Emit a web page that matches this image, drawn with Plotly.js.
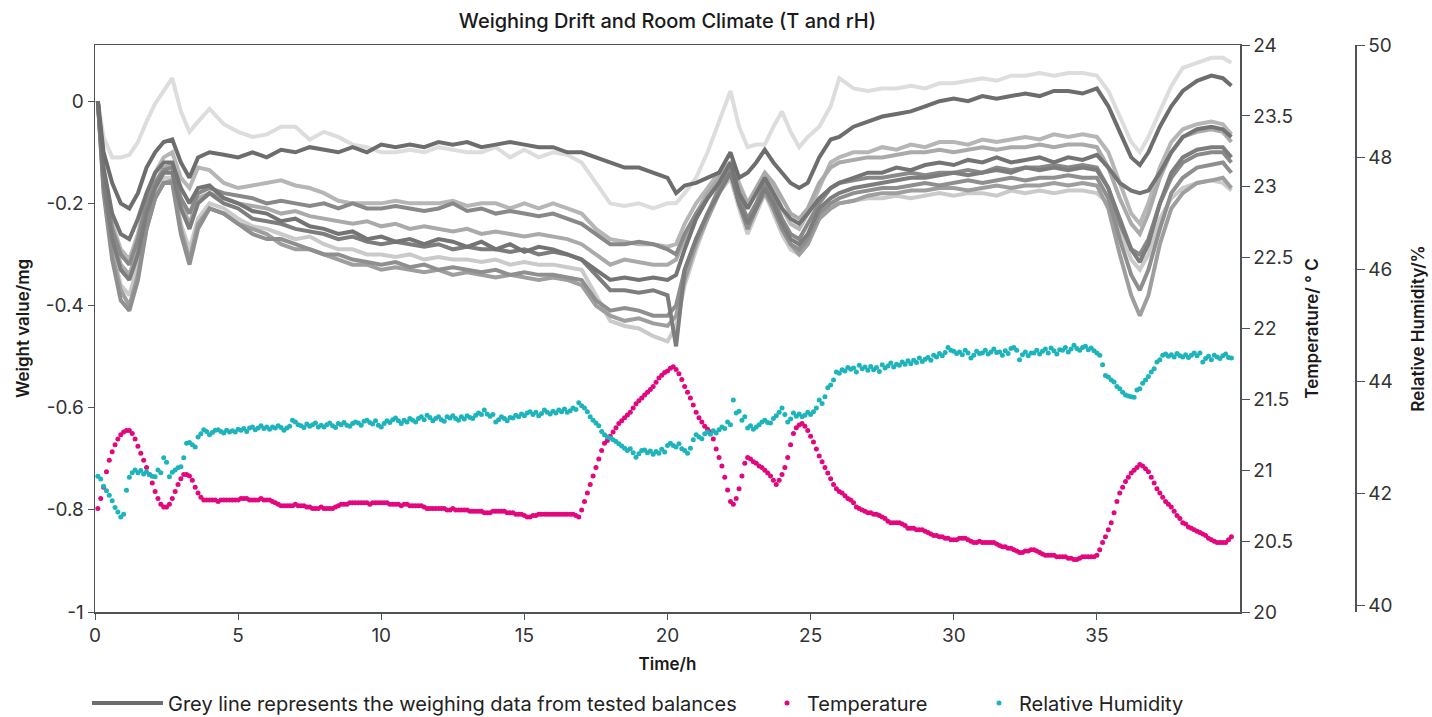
<!DOCTYPE html>
<html><head><meta charset="utf-8">
<script src="https://cdn.plot.ly/plotly-3.0.1.min.js"></script>
<style>html,body{margin:0;padding:0;background:#fff}#chart{width:1432px;height:717px}</style>
</head><body><div id="chart"></div>
<script>
// ---- Weighing drift (mg) of the tested balances, sampled on a common time grid (h) ----
const greyTimes = [0.1,0.3,0.6,0.9,1.2,1.5,1.8,2.1,2.4,2.7,3.0,3.3,3.6,4.0,
 4.5,5,5.5,6,6.5,7,7.5,8,8.5,9,9.5,10,10.5,11,11.5,12,
 12.5,13,13.5,14,14.5,15,15.5,16,16.5,17,17.5,18,18.5,19,19.5,20,
 20.3,20.6,21,21.4,21.8,22.2,22.5,22.8,23.1,23.4,23.7,24,24.3,24.6,24.9,25.3,25.7,
 26,26.5,27,27.5,28,28.5,29,29.5,30,30.5,31,31.5,32,32.5,33,33.5,34,34.5,35,
 35.4,35.8,36.2,36.5,36.8,37.2,37.6,38,38.5,39,39.4,39.7];

const balanceA = [0.0,-0.07,-0.11,-0.11,-0.105,-0.08,-0.04,-0.005,0.02,0.045,-0.02,-0.06,-0.04,-0.015,
 -0.045,-0.06,-0.07,-0.065,-0.05,-0.05,-0.075,-0.06,-0.07,-0.085,-0.09,-0.1,-0.1,-0.095,-0.1,-0.09,
 -0.095,-0.1,-0.1,-0.09,-0.11,-0.095,-0.11,-0.1,-0.105,-0.12,-0.16,-0.2,-0.205,-0.2,-0.21,-0.2,
 -0.2,-0.18,-0.15,-0.1,-0.04,0.02,-0.05,-0.09,-0.085,-0.085,-0.05,-0.02,-0.06,-0.09,-0.07,-0.05,-0.01,
 0.045,0.025,0.02,0.025,0.025,0.03,0.025,0.035,0.035,0.04,0.045,0.04,0.05,0.05,0.055,0.05,0.055,0.055,0.05,
 0.02,-0.03,-0.08,-0.1,-0.07,-0.02,0.03,0.065,0.075,0.085,0.085,0.075];
const balanceB = [0.0,-0.1,-0.16,-0.2,-0.21,-0.18,-0.13,-0.1,-0.08,-0.075,-0.12,-0.15,-0.11,-0.1,
 -0.105,-0.11,-0.1,-0.11,-0.095,-0.1,-0.09,-0.095,-0.1,-0.09,-0.1,-0.085,-0.09,-0.085,-0.09,-0.08,
 -0.085,-0.08,-0.09,-0.085,-0.08,-0.085,-0.09,-0.09,-0.1,-0.1,-0.11,-0.12,-0.13,-0.13,-0.14,-0.15,
 -0.18,-0.165,-0.16,-0.15,-0.14,-0.1,-0.15,-0.14,-0.12,-0.095,-0.12,-0.14,-0.16,-0.17,-0.16,-0.11,-0.075,
 -0.07,-0.05,-0.04,-0.03,-0.025,-0.02,-0.01,0.0,0.005,0.0,0.01,0.005,0.01,0.015,0.01,0.02,0.02,0.015,0.025,
 -0.01,-0.06,-0.11,-0.125,-0.1,-0.05,-0.01,0.02,0.04,0.05,0.045,0.03];
const balanceC = [0.0,-0.14,-0.24,-0.29,-0.31,-0.26,-0.19,-0.14,-0.11,-0.1,-0.15,-0.17,-0.13,-0.135,
 -0.16,-0.17,-0.165,-0.16,-0.155,-0.165,-0.17,-0.18,-0.195,-0.2,-0.2,-0.2,-0.195,-0.2,-0.2,-0.2,
 -0.195,-0.205,-0.2,-0.2,-0.21,-0.2,-0.21,-0.2,-0.21,-0.22,-0.25,-0.27,-0.275,-0.28,-0.28,-0.285,
 -0.28,-0.24,-0.2,-0.17,-0.14,-0.12,-0.16,-0.2,-0.18,-0.14,-0.17,-0.21,-0.24,-0.25,-0.22,-0.17,-0.12,
 -0.11,-0.1,-0.1,-0.09,-0.095,-0.085,-0.09,-0.08,-0.08,-0.085,-0.075,-0.08,-0.075,-0.07,-0.075,-0.065,-0.07,-0.065,-0.07,
 -0.1,-0.16,-0.22,-0.24,-0.2,-0.13,-0.08,-0.055,-0.045,-0.04,-0.045,-0.065];
const balanceD = [0.0,-0.15,-0.25,-0.3,-0.32,-0.27,-0.2,-0.16,-0.135,-0.13,-0.19,-0.22,-0.18,-0.17,
 -0.18,-0.185,-0.19,-0.2,-0.195,-0.2,-0.205,-0.2,-0.21,-0.2,-0.21,-0.21,-0.205,-0.21,-0.215,-0.21,
 -0.2,-0.215,-0.21,-0.22,-0.215,-0.22,-0.225,-0.22,-0.23,-0.24,-0.26,-0.28,-0.28,-0.275,-0.28,-0.29,
 -0.3,-0.26,-0.22,-0.19,-0.16,-0.13,-0.19,-0.23,-0.2,-0.16,-0.19,-0.23,-0.26,-0.27,-0.24,-0.2,-0.17,
 -0.16,-0.155,-0.15,-0.15,-0.145,-0.14,-0.145,-0.14,-0.14,-0.135,-0.14,-0.13,-0.135,-0.13,-0.13,-0.125,-0.13,-0.125,-0.13,
 -0.17,-0.24,-0.29,-0.3,-0.27,-0.2,-0.15,-0.12,-0.105,-0.1,-0.1,-0.12];
const balanceE = [0.0,-0.13,-0.22,-0.26,-0.27,-0.23,-0.18,-0.14,-0.12,-0.12,-0.17,-0.2,-0.17,-0.165,
 -0.19,-0.2,-0.215,-0.22,-0.235,-0.23,-0.245,-0.25,-0.26,-0.255,-0.27,-0.265,-0.275,-0.27,-0.28,-0.27,
 -0.275,-0.285,-0.275,-0.29,-0.28,-0.295,-0.285,-0.29,-0.3,-0.31,-0.33,-0.35,-0.345,-0.35,-0.345,-0.35,
 -0.34,-0.29,-0.23,-0.19,-0.16,-0.12,-0.18,-0.21,-0.18,-0.15,-0.18,-0.21,-0.23,-0.24,-0.22,-0.19,-0.17,
 -0.16,-0.15,-0.14,-0.14,-0.13,-0.135,-0.125,-0.12,-0.125,-0.115,-0.12,-0.11,-0.12,-0.115,-0.11,-0.12,-0.11,-0.115,-0.105,
 -0.13,-0.16,-0.175,-0.18,-0.175,-0.14,-0.1,-0.07,-0.055,-0.05,-0.055,-0.07];
const balanceF = [0.0,-0.16,-0.27,-0.33,-0.35,-0.3,-0.22,-0.17,-0.14,-0.14,-0.21,-0.25,-0.2,-0.18,
 -0.2,-0.21,-0.23,-0.235,-0.24,-0.25,-0.255,-0.26,-0.27,-0.265,-0.275,-0.28,-0.275,-0.28,-0.285,-0.28,
 -0.29,-0.285,-0.29,-0.29,-0.295,-0.29,-0.3,-0.295,-0.3,-0.31,-0.34,-0.37,-0.37,-0.375,-0.37,-0.38,
 -0.48,-0.33,-0.27,-0.22,-0.18,-0.14,-0.2,-0.24,-0.21,-0.17,-0.2,-0.24,-0.27,-0.28,-0.26,-0.21,-0.19,
 -0.18,-0.17,-0.165,-0.16,-0.155,-0.15,-0.15,-0.145,-0.14,-0.145,-0.14,-0.135,-0.14,-0.13,-0.135,-0.13,-0.135,-0.13,-0.135,
 -0.17,-0.23,-0.29,-0.315,-0.28,-0.2,-0.14,-0.11,-0.095,-0.09,-0.09,-0.11];
const balanceG = [0.0,-0.17,-0.29,-0.36,-0.38,-0.32,-0.23,-0.18,-0.15,-0.15,-0.24,-0.29,-0.23,-0.2,
 -0.21,-0.23,-0.245,-0.25,-0.26,-0.27,-0.265,-0.28,-0.29,-0.29,-0.3,-0.3,-0.305,-0.3,-0.31,-0.305,
 -0.31,-0.31,-0.315,-0.31,-0.32,-0.315,-0.32,-0.32,-0.325,-0.33,-0.38,-0.43,-0.44,-0.445,-0.46,-0.47,
 -0.44,-0.36,-0.29,-0.23,-0.18,-0.15,-0.21,-0.26,-0.22,-0.18,-0.22,-0.26,-0.29,-0.3,-0.28,-0.23,-0.2,
 -0.2,-0.195,-0.19,-0.19,-0.185,-0.19,-0.185,-0.18,-0.185,-0.18,-0.18,-0.185,-0.175,-0.18,-0.175,-0.18,-0.175,-0.175,-0.18,
 -0.2,-0.25,-0.31,-0.33,-0.3,-0.23,-0.19,-0.17,-0.16,-0.155,-0.16,-0.175];
const balanceH = [0.0,-0.18,-0.31,-0.39,-0.41,-0.35,-0.25,-0.19,-0.16,-0.16,-0.26,-0.32,-0.25,-0.21,
 -0.22,-0.24,-0.26,-0.27,-0.27,-0.28,-0.29,-0.3,-0.3,-0.31,-0.315,-0.32,-0.315,-0.325,-0.32,-0.33,
 -0.325,-0.33,-0.335,-0.33,-0.34,-0.335,-0.34,-0.34,-0.345,-0.35,-0.39,-0.41,-0.405,-0.41,-0.42,-0.42,
 -0.4,-0.33,-0.27,-0.22,-0.17,-0.13,-0.2,-0.25,-0.21,-0.17,-0.21,-0.25,-0.28,-0.29,-0.27,-0.22,-0.2,
 -0.19,-0.18,-0.175,-0.17,-0.17,-0.165,-0.16,-0.165,-0.16,-0.155,-0.16,-0.155,-0.15,-0.155,-0.15,-0.15,-0.145,-0.15,-0.15,
 -0.19,-0.27,-0.34,-0.37,-0.33,-0.25,-0.18,-0.15,-0.13,-0.125,-0.12,-0.14];
const balanceI = [0.0,-0.17,-0.3,-0.37,-0.4,-0.34,-0.25,-0.19,-0.16,-0.155,-0.25,-0.31,-0.24,-0.21,
 -0.22,-0.24,-0.25,-0.26,-0.28,-0.29,-0.29,-0.3,-0.31,-0.32,-0.32,-0.33,-0.325,-0.33,-0.335,-0.33,
 -0.34,-0.335,-0.34,-0.345,-0.34,-0.345,-0.35,-0.345,-0.35,-0.36,-0.4,-0.42,-0.43,-0.425,-0.435,-0.44,
 -0.42,-0.35,-0.28,-0.23,-0.18,-0.14,-0.2,-0.25,-0.21,-0.18,-0.21,-0.25,-0.28,-0.3,-0.28,-0.23,-0.21,
 -0.2,-0.195,-0.185,-0.18,-0.18,-0.175,-0.175,-0.17,-0.17,-0.175,-0.17,-0.165,-0.17,-0.165,-0.165,-0.16,-0.165,-0.16,-0.165,
 -0.21,-0.3,-0.38,-0.42,-0.38,-0.28,-0.21,-0.18,-0.16,-0.155,-0.15,-0.17];
const balanceJ = [0.0,-0.15,-0.26,-0.32,-0.34,-0.29,-0.21,-0.16,-0.13,-0.125,-0.2,-0.24,-0.19,-0.18,
 -0.19,-0.2,-0.205,-0.21,-0.22,-0.215,-0.225,-0.23,-0.235,-0.24,-0.235,-0.245,-0.24,-0.25,-0.245,-0.25,
 -0.255,-0.25,-0.26,-0.255,-0.26,-0.265,-0.26,-0.265,-0.27,-0.28,-0.3,-0.32,-0.31,-0.315,-0.32,-0.32,
 -0.31,-0.27,-0.22,-0.18,-0.15,-0.125,-0.17,-0.2,-0.17,-0.14,-0.16,-0.19,-0.22,-0.23,-0.21,-0.16,-0.13,
 -0.12,-0.115,-0.11,-0.11,-0.105,-0.1,-0.1,-0.095,-0.1,-0.095,-0.09,-0.095,-0.09,-0.09,-0.085,-0.09,-0.085,-0.085,-0.09,
 -0.13,-0.19,-0.24,-0.26,-0.22,-0.15,-0.1,-0.07,-0.06,-0.055,-0.06,-0.08];

// ---- Room climate, one reading every 0.1 h starting at 0.1 h ----
const climateStartH = 0.1;
const climateStepH = 0.1;
const temperatureC = [
 20.73,20.80,20.88,20.99,21.07,21.13,21.18,21.22,21.25,21.27,
 21.28,21.28,21.26,21.22,21.17,21.12,21.07,21.02,20.97,20.91,
 20.85,20.80,20.76,20.74,20.74,20.76,20.80,20.85,20.90,20.94,
 20.97,20.97,20.96,20.93,20.88,20.84,20.81,20.79,20.79,20.79,
 20.79,20.79,20.78,20.79,20.79,20.79,20.79,20.79,20.79,20.79,
 20.80,20.80,20.80,20.79,20.79,20.79,20.79,20.80,20.79,20.79,
 20.79,20.78,20.77,20.76,20.75,20.75,20.75,20.75,20.75,20.76,
 20.75,20.75,20.75,20.74,20.74,20.73,20.73,20.73,20.74,20.73,
 20.73,20.73,20.73,20.74,20.75,20.76,20.76,20.76,20.77,20.77,
 20.77,20.77,20.77,20.77,20.77,20.76,20.77,20.77,20.77,20.77,
 20.77,20.77,20.76,20.76,20.76,20.76,20.75,20.76,20.76,20.75,
 20.75,20.75,20.75,20.75,20.74,20.73,20.73,20.73,20.73,20.73,
 20.73,20.73,20.72,20.72,20.73,20.72,20.72,20.72,20.72,20.72,
 20.71,20.71,20.71,20.71,20.71,20.70,20.70,20.70,20.71,20.71,
 20.71,20.71,20.71,20.70,20.70,20.70,20.69,20.69,20.69,20.68,
 20.67,20.67,20.68,20.68,20.69,20.69,20.69,20.69,20.69,20.69,
 20.69,20.69,20.69,20.69,20.69,20.69,20.69,20.68,20.67,20.72,
 20.78,20.84,20.90,20.96,21.02,21.08,21.14,21.19,21.21,21.24,
 21.27,21.30,21.33,21.35,21.37,21.39,21.41,21.44,21.47,21.49,
 21.51,21.53,21.55,21.57,21.59,21.62,21.65,21.67,21.69,21.70,
 21.72,21.73,21.71,21.68,21.64,21.59,21.55,21.51,21.46,21.41,
 21.37,21.34,21.31,21.29,21.27,21.22,21.15,21.09,21.03,20.95,
 20.86,20.78,20.76,20.80,20.87,20.96,21.05,21.09,21.08,21.06,
 21.05,21.03,21.02,21.00,20.98,20.96,20.93,20.90,20.93,20.97,
 21.02,21.09,21.18,21.26,21.30,21.32,21.33,21.31,21.28,21.24,
 21.20,21.15,21.10,21.06,21.02,20.98,20.94,20.90,20.87,20.85,
 20.84,20.82,20.80,20.79,20.77,20.74,20.73,20.72,20.71,20.70,
 20.70,20.69,20.69,20.68,20.67,20.66,20.64,20.63,20.63,20.63,
 20.63,20.62,20.61,20.59,20.59,20.59,20.58,20.58,20.58,20.57,
 20.56,20.55,20.54,20.54,20.53,20.53,20.52,20.52,20.51,20.51,
 20.51,20.52,20.52,20.52,20.51,20.50,20.49,20.49,20.50,20.49,
 20.49,20.49,20.49,20.49,20.48,20.47,20.46,20.46,20.45,20.45,
 20.44,20.43,20.42,20.42,20.43,20.43,20.44,20.44,20.43,20.42,
 20.41,20.40,20.40,20.40,20.40,20.39,20.39,20.39,20.39,20.38,
 20.38,20.37,20.37,20.38,20.39,20.39,20.39,20.39,20.39,20.40,
 20.44,20.49,20.53,20.58,20.63,20.70,20.78,20.84,20.88,20.92,
 20.95,20.98,21.00,21.02,21.04,21.03,21.01,20.99,20.95,20.91,
 20.87,20.84,20.81,20.78,20.76,20.74,20.71,20.68,20.66,20.63,
 20.62,20.60,20.59,20.58,20.57,20.56,20.55,20.54,20.52,20.51,
 20.50,20.49,20.49,20.49,20.49,20.51,20.53];
const humidityPct = [
 42.30,42.25,42.12,42.04,41.96,41.86,41.74,41.66,41.57,41.62,
 42.05,42.28,42.36,42.41,42.36,42.40,42.34,42.38,42.33,42.30,
 42.29,42.41,42.36,42.63,42.55,42.29,42.37,42.41,42.45,42.47,
 42.63,42.89,42.90,42.86,42.82,43.00,43.06,43.13,43.10,43.04,
 43.08,43.12,43.13,43.10,43.07,43.12,43.09,43.11,43.09,43.14,
 43.12,43.15,43.10,43.16,43.18,43.13,43.16,43.20,43.15,43.18,
 43.14,43.18,43.16,43.20,43.17,43.12,43.16,43.19,43.30,43.27,
 43.22,43.20,43.17,43.23,43.19,43.22,43.25,43.18,43.21,43.18,
 43.22,43.25,43.20,43.17,43.24,43.22,43.26,43.21,43.19,43.24,
 43.27,43.25,43.21,43.28,43.30,43.26,43.23,43.29,43.21,43.18,
 43.24,43.29,43.26,43.31,43.34,43.29,43.24,43.30,43.27,43.33,
 43.30,43.27,43.33,43.36,43.31,43.39,43.35,43.29,43.33,43.36,
 43.31,43.28,43.36,43.34,43.38,43.33,43.30,43.36,43.32,43.38,
 43.35,43.33,43.39,43.43,43.40,43.48,43.41,43.37,43.40,43.27,
 43.31,43.36,43.33,43.29,43.35,43.34,43.39,43.36,43.41,43.38,
 43.43,43.45,43.40,43.44,43.38,43.42,43.48,43.44,43.41,43.46,
 43.43,43.48,43.45,43.50,43.44,43.47,43.52,43.49,43.61,43.56,
 43.52,43.45,43.36,43.30,43.25,43.20,43.10,43.04,43.00,42.98,
 42.95,42.92,42.88,42.84,42.80,42.76,42.79,42.72,42.64,42.70,
 42.76,42.77,42.72,42.75,42.69,42.74,42.71,42.78,42.73,42.85,
 42.89,42.85,42.82,42.88,42.79,42.76,42.71,42.80,42.95,43.04,
 43.00,42.97,43.06,43.09,43.05,43.11,43.07,43.13,43.18,43.15,
 43.27,43.22,43.66,43.43,43.46,43.30,43.36,43.16,43.20,43.14,
 43.18,43.22,43.27,43.30,43.26,43.25,43.33,43.38,43.44,43.52,
 43.40,43.27,43.32,43.43,43.37,43.41,43.36,43.39,43.44,43.40,
 43.45,43.52,43.66,43.60,43.72,43.88,43.93,44.02,44.16,44.14,
 44.20,44.18,44.24,44.21,44.23,44.16,44.28,44.22,44.25,44.19,
 44.26,44.20,44.24,44.17,44.29,44.23,44.27,44.32,44.25,44.30,
 44.28,44.34,44.30,44.36,44.31,44.37,44.33,44.41,44.35,44.39,
 44.42,44.37,44.46,44.43,44.49,44.45,44.51,44.60,44.55,44.53,
 44.49,44.52,44.47,44.55,44.50,44.41,44.46,44.53,44.49,44.50,
 44.55,44.48,44.52,44.57,44.51,44.52,44.46,44.54,44.49,44.58,
 44.60,44.55,44.38,44.47,44.52,44.45,44.50,44.50,44.55,44.48,
 44.53,44.57,44.50,44.59,44.54,44.48,44.56,44.55,44.60,44.52,
 44.57,44.64,44.58,44.55,44.60,44.62,44.56,44.59,44.54,44.50,
 44.46,44.29,44.10,44.07,44.02,43.98,43.90,43.86,43.80,43.75,
 43.73,43.72,43.71,43.84,43.86,43.96,44.02,44.08,44.16,44.22,
 44.34,44.38,44.46,44.48,44.44,44.47,44.43,44.49,44.45,44.43,
 44.47,44.42,44.46,44.50,44.45,44.50,44.34,44.40,44.44,44.38,
 44.46,44.43,44.40,44.45,44.48,44.42,44.41];

// ---- Axis ticks ----
const timeTickVals = [0,5,10,15,20,25,30,35];
const weightTickVals = [-1,-0.8,-0.6,-0.4,-0.2,0];
const weightTickText = ['-1','-0.8','-0.6','-0.4','-0.2','0'];

const climateTimes = temperatureC.map((_, i) => +(climateStartH + i * climateStepH).toFixed(1));

const FONT = 'Inter, "Noto Sans", "DejaVu Sans", sans-serif';
const AXIS = '#4d5359';

const greySeries = [
  {y: balanceA, c: '#dddddd'},
  {y: balanceG, c: '#cacaca'},
  {y: balanceC, c: '#b6b6b6'},
  {y: balanceJ, c: '#aaaaaa'},
  {y: balanceI, c: '#9e9e9e'},
  {y: balanceH, c: '#8f8f8f'},
  {y: balanceD, c: '#898989'},
  {y: balanceF, c: '#7d7d7d'},
  {y: balanceE, c: '#747474'},
  {y: balanceB, c: '#6d6d6d'}
];

const traces = greySeries.map((s, i) => ({
  type: 'scatter', mode: 'lines', x: greyTimes, y: s.y,
  line: {color: s.c, width: 4},
  name: 'Grey line represents the weighing data from tested balances',
  showlegend: i === greySeries.length - 1, legend: 'legend',
  hoverinfo: 'skip'
}));

traces.push({
  type: 'scatter', mode: 'markers', x: climateTimes, y: humidityPct, yaxis: 'y3',
  marker: {color: '#1db4bb', size: 5}, name: 'Relative Humidity', legend: 'legend3'
});
traces.push({
  type: 'scatter', mode: 'markers', x: climateTimes, y: temperatureC, yaxis: 'y2',
  marker: {color: '#e3077e', size: 5}, name: 'Temperature', legend: 'legend2'
});

const L = 95, R = 60, T = 45, B = 105, W = 1432, H = 717;
const pw = W - L - R;
const xEnd = (1240 - L) / pw;
const rhPos = (1355 - L) / pw;

const tickFont = {family: FONT, size: 19, color: '#333'};
const titleFont = {family: FONT, size: 17, color: '#1a1a1a', weight: 600};
const legBase = {orientation: 'h', xref: 'container', yref: 'container', y: 1 - 703 / H, yanchor: 'middle', xanchor: 'left',
  font: {family: FONT, size: 20, color: '#222'}, bgcolor: 'rgba(0,0,0,0)', itemwidth: 30};

const layout = {
  width: W, height: H,
  margin: {l: L, r: R, t: T, b: B},
  paper_bgcolor: '#fff', plot_bgcolor: '#fff',
  font: {family: FONT, color: '#222'},
  title: {text: 'Weighing Drift and Room Climate (T and rH)', font: {family: FONT, size: 20, color: '#1a1a1a', weight: 500},
    xref: 'paper', x: xEnd / 2, xanchor: 'center', yref: 'container', y: 1 - 21 / H, yanchor: 'middle'},
  xaxis: {domain: [0, xEnd], range: [0, 40], tickvals: timeTickVals, ticks: 'outside', ticklen: 6, tickcolor: AXIS,
    showline: true, linecolor: AXIS, linewidth: 1.5, mirror: true, showgrid: false, zeroline: false,
    tickfont: tickFont, title: {text: 'Time/h', font: titleFont, standoff: 12}},
  yaxis: {range: [-1, 0.11], tickvals: weightTickVals, ticktext: weightTickText, ticks: 'outside', ticklen: 6, tickcolor: AXIS,
    showline: true, linecolor: AXIS, linewidth: 1.5, showgrid: false, zeroline: false,
    tickfont: tickFont, title: {text: 'Weight value/mg', font: titleFont, standoff: 12}},
  yaxis2: {overlaying: 'y', side: 'right', anchor: 'x', range: [20, 24], tick0: 20, dtick: 0.5,
    ticks: 'outside', ticklen: 8, tickcolor: AXIS, showline: true, linecolor: AXIS, linewidth: 1.5,
    showgrid: false, zeroline: false, tickfont: tickFont,
    title: {text: 'Temperature/ ° C', font: titleFont, standoff: 14}},
  yaxis3: {overlaying: 'y', side: 'right', anchor: 'free', position: rhPos, range: [39.875, 50], tick0: 40, dtick: 2,
    ticks: 'outside', ticklen: 8, tickcolor: AXIS, showline: true, linecolor: AXIS, linewidth: 1.5,
    showgrid: false, zeroline: false, tickfont: tickFont,
    title: {text: 'Relative Humidity/%', font: titleFont, standoff: 20}},
  legend: Object.assign({}, legBase, {x: 87 / W, itemwidth: 71}),
  legend2: Object.assign({}, legBase, {x: 767 / W}),
  legend3: Object.assign({}, legBase, {x: 979 / W}),
  showlegend: true
};

Plotly.newPlot('chart', traces, layout, {displayModeBar: false, staticPlot: true});
</script>
</body></html>
